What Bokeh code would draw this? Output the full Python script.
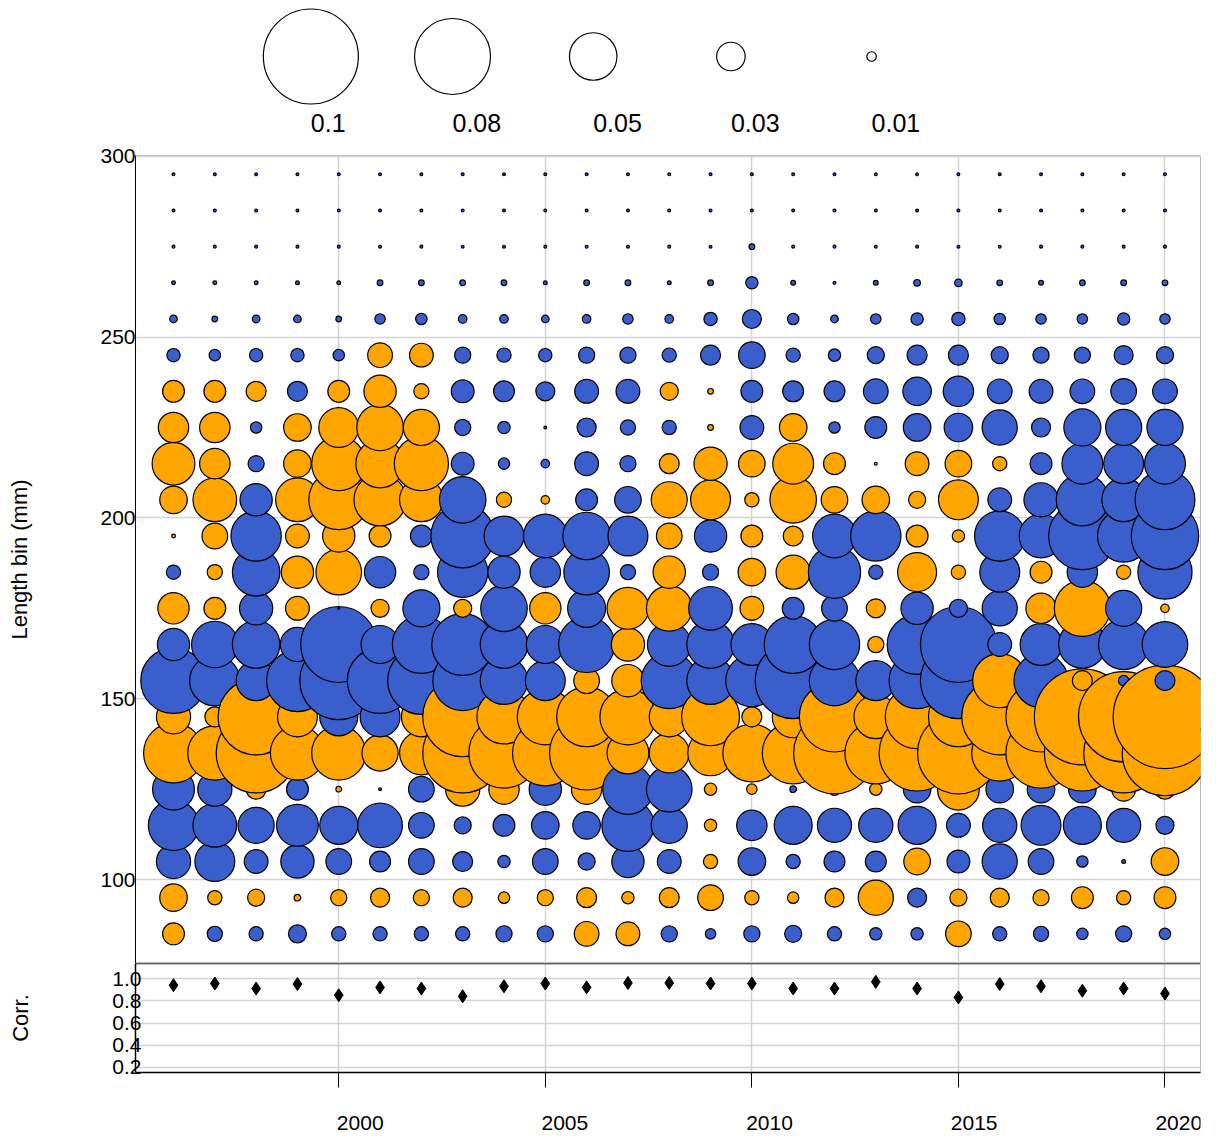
from bokeh.plotting import figure
from bokeh.layouts import column
from bokeh.models import Range1d, FixedTicker, ColumnDataSource, NumeralTickFormatter
from bokeh.core.properties import value
from bokeh.embed import file_html
from bokeh.resources import INLINE

years = list(range(1996, 2021))
lengths = list(range(85, 300, 10))

# residuals in thousandths, one list per length bin (1996..2020); + orange, - blue
res = {
    295: [-3] * 25,
    285: [-3] * 25,
    275: [-3] * 14 + [-6] + [-3] * 10,
    265: [-4, -4, -4, -4, -4, -6, -6, -6, -6, -4, -6, -6, -4, -6, -13, -5, -3, -5, -7, -8, -6, -5, -6, -6, -6],
    255: [-8, -6, -8, -8, -6, -11, -12, -9, -9, -8, -9, -11, -9, -14, -20, -12, -8, -11, -13, -14, -12, -11, -11, -13, -11],
    245: [-14, -12, -14, -14, -12, 26, 25, -17, -15, -14, -17, -17, -15, -21, -28, -15, -13, -18, -21, -21, -18, -17, -17, -20, -18],
    235: [23, 23, 21, -21, 23, 34, 16, -24, -22, -20, -25, -25, 19, 6, -23, -22, -22, -26, -30, -32, -26, -25, -26, -27, -26],
    225: [32, 32, -12, 29, 42, 49, 38, -17, -13, -3, -20, -16, -15, 6, -25, 29, -12, -23, -29, -30, -37, -20, -39, -38, -38],
    215: [45, 32, -17, 29, 57, 51, 57, -24, -12, -9, -25, -17, 21, 35, 28, 43, 23, 3, 25, 28, 15, -23, -43, -42, -43],
    205: [29, 46, -34, 46, 63, 55, 46, -49, 16, 9, -23, -28, 38, 42, 15, 49, 28, 29, 18, 42, -25, -36, -55, -46, -63],
    195: [4, 27, -53, 25, 34, 23, -23, -67, -42, -46, -50, -42, 27, -34, 23, 21, -46, -53, 23, 13, -53, -46, -71, -55, -71],
    185: [-15, 16, -50, 34, 48, -33, -16, -53, -34, -32, -48, -16, 34, -17, 29, 36, -55, -15, 41, 15, -42, 23, -32, 15, -57],
    175: [33, 23, -35, 25, -2, 19, -39, 19, -49, 33, -40, 44, 48, -46, 25, -23, -27, 20, -34, -19, -37, 32, 59, -38, 9],
    165: [-34, -49, -50, -36, -80, -40, -61, -65, -50, -40, -59, 35, -46, -50, -44, -61, -53, 17, -63, -80, -25, -44, -50, -53, -48],
    155: [-69, -53, -42, -65, -82, -69, -71, -63, -50, -42, 27, 34, -59, -50, -55, -80, -53, -42, -59, -80, 57, -57, 21, -11, -21],
    145: [36, 21, 80, 42, -40, -42, 42, 84, 57, 59, 63, 59, 42, 61, 21, 44, 74, 46, 67, 63, 80, 74, 101, 95, 109],
    135: [63, 57, 84, 57, 57, 38, 46, 84, 74, 69, 78, 44, 42, 48, 61, 65, 86, 65, 80, 86, 59, 74, 80, 84, 90],
    125: [-44, -36, 21, -23, 6, -3, -27, 36, 32, -34, 32, -53, -48, 13, 11, -7, 13, 13, -29, 44, -29, -29, -29, 25, 21],
    115: [-53, -46, -38, -44, -40, -47, -27, -18, -23, -29, -29, -55, -38, 13, -32, -40, -36, -36, -40, -25, -36, -42, -40, -36, -19],
    105: [-36, -42, -25, -35, -27, -22, -27, -21, -13, -27, -18, -34, -25, 15, -29, -15, -22, -22, 28, -24, -37, -27, -12, -4, 29],
    95: [29, 15, 18, 7, 17, 20, 17, 20, 12, 17, 21, 13, 21, 27, 15, 12, 20, 37, -20, 18, 20, 17, 23, 15, 23],
    85: [23, -16, -15, -19, -15, -15, -15, -15, -17, -17, 26, 25, -17, -11, -17, -18, -15, -13, -13, 27, -15, -16, -12, -17, -12],
}

corr = [0.94, 0.955, 0.91, 0.95, 0.85, 0.92, 0.91, 0.84, 0.93, 0.955, 0.92, 0.96, 0.96,
        0.955, 0.955, 0.91, 0.91, 0.97, 0.91, 0.83, 0.95, 0.93, 0.89, 0.91, 0.865]

legend_vals = [0.1, 0.08, 0.05, 0.03, 0.01]
legend_labels = ["0.1", "0.08", "0.05", "0.03", "0.01"]
legend_x = [312, 455, 597, 736, 878]
year_ticks = [2000, 2005, 2010, 2015, 2020]

ORANGE = "#FFA500"
BLUE = "#3A5FCD"
FONT = "Liberation Sans"
PX_PER_UNIT = 950  # bubble diameter in px per unit residual
BORDER_L = 135
BORDER_R = 10
W = 1210
TOP_PAD = 14

# legend strip (x range in page pixels of the frame)
leg = figure(width=W, height=155 - TOP_PAD, x_range=Range1d(135, 1210), y_range=Range1d(155 - TOP_PAD, 0),
             output_backend="svg", toolbar_location=None,
             min_border_left=BORDER_L, min_border_right=0, min_border_top=0, min_border_bottom=0)
leg.axis.visible = False
leg.grid.visible = False
leg.outline_line_color = None
leg.scatter(legend_x, [56] * 5, size=[v * PX_PER_UNIT for v in legend_vals],
            fill_color="white", line_color="black", line_width=1.2)
leg.text(legend_x, [122] * 5, text=legend_labels, text_align="left", text_baseline="middle",
         text_font_size="25px", text_font=value(FONT), text_color="black")

# main bubble panel
xs, ys, sz, col = [], [], [], []
for i, yr in enumerate(years):
    for L in lengths:
        m = res[L][i]
        xs.append(yr)
        ys.append(L)
        sz.append(abs(m) / 1000 * PX_PER_UNIT)
        col.append(ORANGE if m > 0 else BLUE)
src = ColumnDataSource(dict(x=xs, y=ys, size=sz, color=col))

xr = Range1d(1995.08, 2020.86)
p = figure(width=W, height=808 + TOP_PAD, x_range=xr, y_range=Range1d(76.8, 300.2),
           output_backend="svg", toolbar_location=None,
           min_border_left=BORDER_L, min_border_right=BORDER_R, min_border_top=TOP_PAD, min_border_bottom=0)
p.xaxis.visible = False
p.xgrid.ticker = FixedTicker(ticks=year_ticks)
p.yaxis.ticker = FixedTicker(ticks=[100, 150, 200, 250, 300])
p.grid.grid_line_color = "#d3d3d3"
p.grid.grid_line_width = 1.5
p.outline_line_color = "#bbbbbb"
p.yaxis.axis_line_color = "black"
p.yaxis.major_tick_out = 0
p.yaxis.major_tick_in = 0
p.yaxis.minor_tick_line_color = None
p.yaxis.major_label_text_font_size = "21px"
p.yaxis.major_label_text_font = FONT
p.yaxis.major_label_text_color = "black"
p.yaxis.major_label_standoff = 0
p.yaxis.axis_label = "Length bin (mm)"
p.yaxis.axis_label_text_font = FONT
p.yaxis.axis_label_text_color = "black"
p.yaxis.axis_label_text_font_style = "normal"
p.yaxis.axis_label_text_font_size = "22px"
p.yaxis.axis_label_standoff = 65
p.scatter("x", "y", size="size", fill_color="color", line_color="black", line_width=1.2, source=src)

# correlation panel
c = figure(width=W, height=125, x_range=xr, y_range=Range1d(0.155, 1.135),
           output_backend="svg", toolbar_location=None,
           min_border_left=BORDER_L, min_border_right=BORDER_R, min_border_top=0, min_border_bottom=16)
c.xaxis.ticker = FixedTicker(ticks=year_ticks)
c.yaxis.ticker = FixedTicker(ticks=[0.2, 0.4, 0.6, 0.8, 1.0])
c.yaxis.formatter = NumeralTickFormatter(format="0.0")
c.grid.grid_line_color = "#d3d3d3"
c.grid.grid_line_width = 1.5
c.outline_line_color = "#bbbbbb"
c.xaxis.major_tick_out = 15
c.xaxis.major_tick_in = 0
c.xaxis.minor_tick_line_color = None
c.xaxis.major_label_overrides = {t: "" for t in year_ticks}
c.xaxis.major_label_standoff = 0
c.yaxis.major_tick_out = 0
c.yaxis.major_tick_in = 0
c.yaxis.minor_tick_line_color = None
c.yaxis.major_label_standoff = -6
c.yaxis.major_label_text_font_size = "21px"
c.yaxis.major_label_text_font = FONT
c.yaxis.major_label_text_color = "black"
for ax in (c.xaxis, c.yaxis):
    ax.axis_line_color = "black"
    ax.axis_line_width = 1.5
c.yaxis.axis_label = "Corr."
c.yaxis.axis_label_text_font = FONT
c.yaxis.axis_label_text_color = "black"
c.yaxis.axis_label_text_font_style = "normal"
c.yaxis.axis_label_text_font_size = "22px"
c.yaxis.axis_label_standoff = 76
c.segment(x0=[1995.08], x1=[2020.86], y0=[1.135], y1=[1.135], line_color="black", line_width=1.5)
c.scatter(years, corr, marker="diamond", size=13, color="black")

# year labels strip, same x scale extended to the right edge
xl = figure(width=W, height=49, x_range=Range1d(1995.08, 2020.86 + BORDER_R / 41.35), y_range=Range1d(49, 0),
            output_backend="svg", toolbar_location=None,
            min_border_left=BORDER_L, min_border_right=0, min_border_top=0, min_border_bottom=0)
xl.axis.visible = False
xl.grid.visible = False
xl.outline_line_color = None
xl.text(year_ticks, [34] * 5, text=[str(y) for y in year_ticks], text_align="left",
        text_baseline="middle", text_font_size="21px", text_font=value(FONT), text_color="black")

layout = column(leg, p, c, xl, spacing=0)
open("out.html", "w").write(file_html(layout, INLINE))
